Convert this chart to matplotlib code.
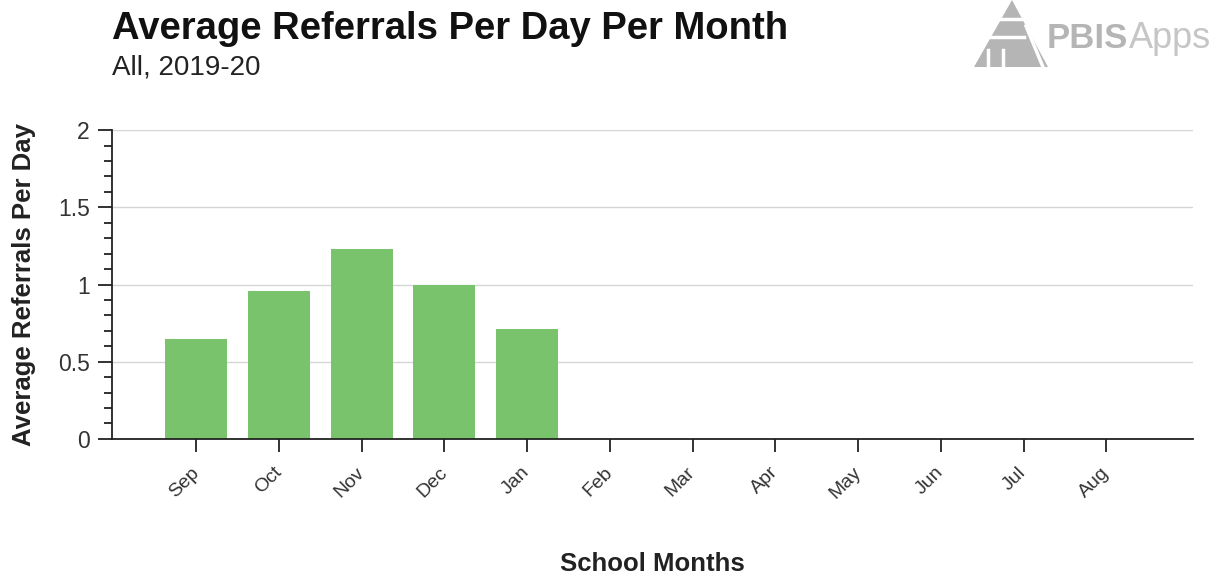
import numpy as np
import matplotlib.pyplot as plt
import matplotlib.transforms as mtransforms
from matplotlib.patches import Polygon
from matplotlib.lines import Line2D
from matplotlib.ticker import MultipleLocator

months = ['Sep', 'Oct', 'Nov', 'Dec', 'Jan', 'Feb', 'Mar', 'Apr', 'May', 'Jun', 'Jul', 'Aug']
referrals = [0.65, 0.96, 1.23, 1.0, 0.71, 0, 0, 0, 0, 0, 0, 0]

plt.rcParams['font.family'] = ['Liberation Sans', 'DejaVu Sans']

fig = plt.figure(figsize=(12.3, 5.76), dpi=100)
ax = fig.add_axes([0.091, 0.238, 0.879, 0.536])

x = np.arange(len(months))
ax.bar(x, referrals, width=0.75, color='#78c36c', zorder=2)

ax.set_xlim(-1.02, 12.05)
ax.set_ylim(0, 2)
ax.yaxis.set_minor_locator(MultipleLocator(0.1))
ax.set_yticks([0, 0.5, 1, 1.5, 2])
ax.set_yticklabels(['0', '0.5', '1', '1.5', '2'])
ax.grid(axis='y', color='#d6d6d6', linewidth=1, zorder=0)

ax.set_xticks(x)
ax.set_xticklabels(months, rotation=45, ha='right', va='top', rotation_mode='anchor')
ax.tick_params(axis='x', length=9, width=1.3, color='#222222', labelsize=14,
               labelcolor='#333333', pad=9)
ax.tick_params(axis='y', which='major', length=10, width=1.3, color='#222222',
               labelsize=16.5, labelcolor='#333333', pad=6)
ax.tick_params(axis='y', which='minor', length=6, width=1.3, color='#222222')
shift = mtransforms.ScaledTranslation(-6 / 100, 0, fig.dpi_scale_trans)
for lab in ax.get_xticklabels():
    lab.set_transform(lab.get_transform() + shift)

for s in ['top', 'right']:
    ax.spines[s].set_visible(False)
ax.spines['left'].set_color('#222222')
ax.spines['bottom'].set_color('#222222')
ax.spines['left'].set_linewidth(1.3)
ax.spines['bottom'].set_linewidth(1.3)

ax.set_ylabel('Average Referrals Per Day', fontsize=18.5, fontweight='bold', color='#222222', labelpad=16)
ax.set_xlabel('School Months', fontsize=18.5, fontweight='bold', color='#222222', labelpad=36)

fig.text(0.091, 0.950, 'Average Referrals Per Day Per Month', fontsize=27.5, fontweight='bold',
         color='#111111', va='center', ha='left')
fig.text(0.091, 0.882, 'All, 2019-20', fontsize=20, color='#222222', va='center', ha='left')

# logo
logo_grey = '#b5b5b5'
W, H = 1230.0, 576.0
def fx(px):
    return px / W
def fy(py):
    return 1 - py / H
fig.patches.append(Polygon([[fx(974), fy(67)], [fx(1048), fy(67)], [fx(1012), fy(0)]], closed=True,
                           transform=fig.transFigure, facecolor=logo_grey, edgecolor='none'))
white_cuts = [
    ([991, 1032], [19, 19]),
    ([984, 1024], [37, 37]),
    ([1026, 1043], [26, 67]),
    ([988, 988], [50, 67]),
    ([1003, 1003], [50, 67]),
]
for xs, ys in white_cuts:
    fig.lines.append(Line2D([fx(v) for v in xs], [fy(v) for v in ys], transform=fig.transFigure,
                            color='white', linewidth=2.5))
fig.text(fx(1128), fy(38), 'PBIS', fontsize=25, fontweight='bold', color=logo_grey, va='center', ha='right')
fig.text(fx(1129), fy(38), 'Apps', fontsize=26, color='#c6c6c6', va='center', ha='left')

fig.savefig('out.png', dpi=100, facecolor='white')
